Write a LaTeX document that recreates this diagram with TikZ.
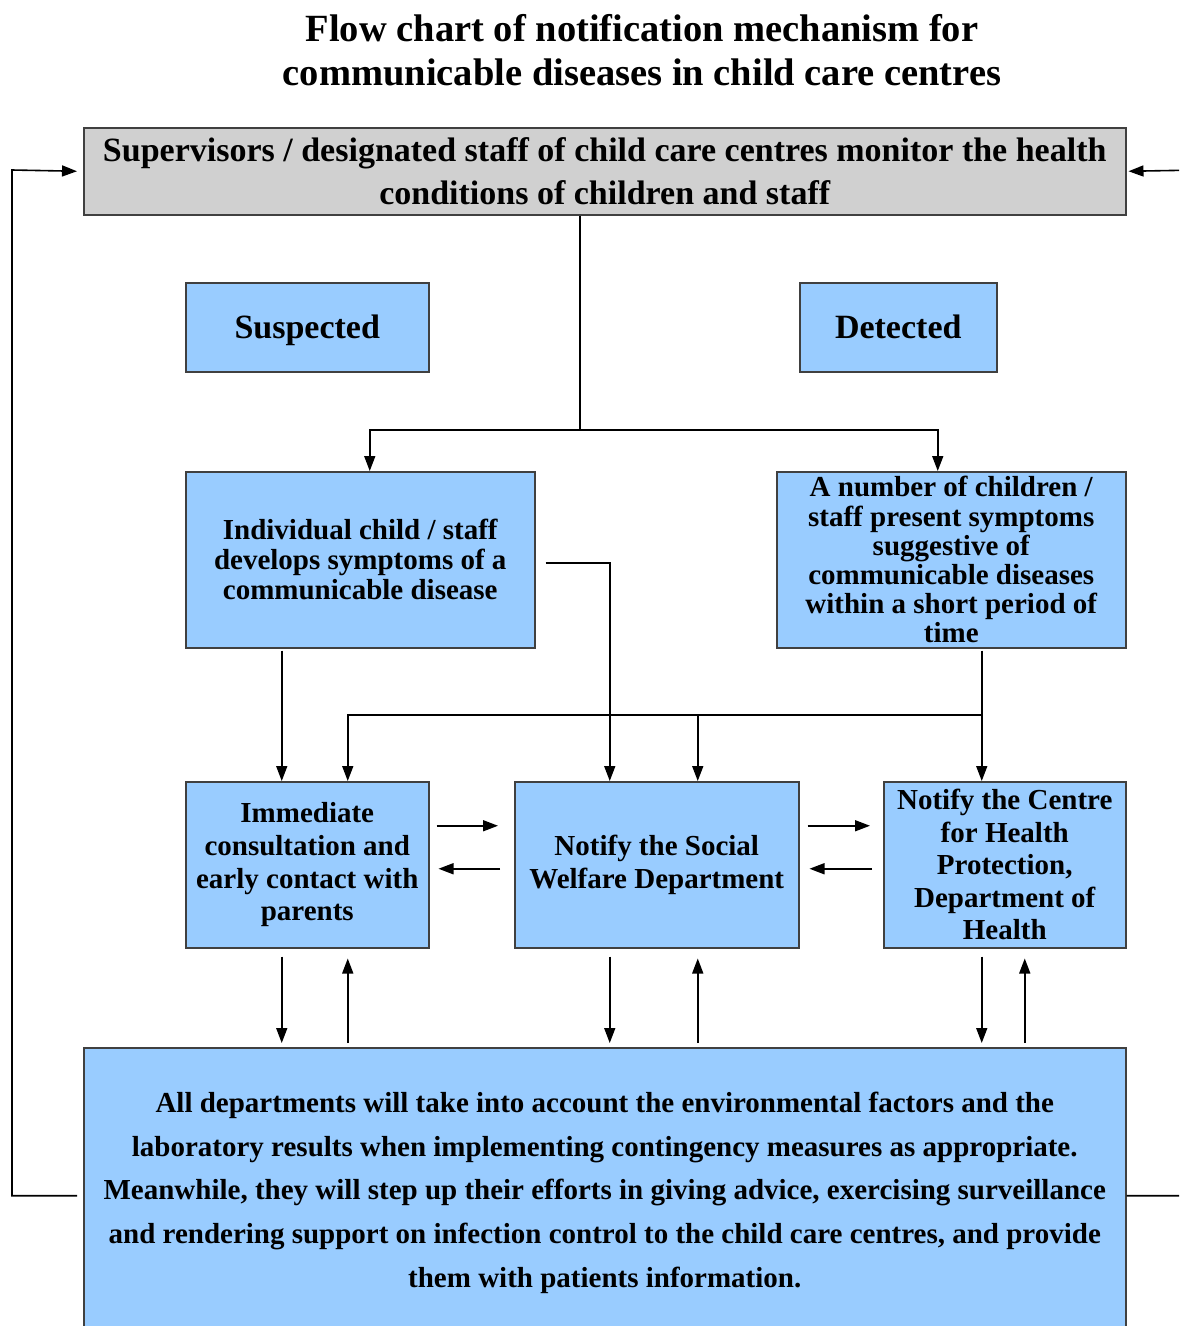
\documentclass[tikz,border=0pt]{standalone}
\usepackage{fontspec}
\setmainfont{Liberation Serif}
\usetikzlibrary{arrows.meta}
\definecolor{boxblue}{HTML}{99CCFF}
\definecolor{boxgray}{HTML}{D0D0D0}
\definecolor{edge}{HTML}{404040}
\begin{document}
\begin{tikzpicture}[x=1pt,y=-1pt,
  box/.style={draw=edge,line width=1.5pt,fill=boxblue,anchor=north west,inner sep=0pt,align=center,font=\bfseries\fontsize{29}{30}\selectfont},
  arr/.style={line width=1.6pt,-{Triangle[length=15pt,width=11pt]}},
  ln/.style={line width=1.6pt}]
\clip (0,0) rectangle (1179,1326);
\fill[white] (0,0) rectangle (1179,1326);
% title
\node[font=\bfseries\fontsize{38.5}{44}\selectfont,align=center] (title) at (642,50) {Flow chart of notification mechanism for\\communicable diseases in child care centres};
% boxes
\node[box,fill=boxgray,minimum width=1042pt,minimum height=87pt,font=\bfseries\fontsize{34}{43}\selectfont] (sup) at (83,127) {Supervisors / designated staff of child care centres monitor the health\\conditions of children and staff};
\node[box,minimum width=243pt,minimum height=89pt,font=\bfseries\fontsize{34}{38}\selectfont,text depth=2pt] (susp) at (185,282) {Suspected};
\node[box,minimum width=197pt,minimum height=89pt,font=\bfseries\fontsize{34}{38}\selectfont] (det) at (799,282) {Detected};
\node[box,minimum width=349pt,minimum height=176pt] (ind) at (185,471) {Individual child / staff\\develops symptoms of a\\communicable disease};
\node[box,minimum width=349pt,minimum height=176pt,font=\bfseries\fontsize{29}{29.2}\selectfont] (num) at (776,471) {A number of children /\\staff present symptoms\\suggestive of\\communicable diseases\\within a short period of\\time};
\node[box,minimum width=243pt,minimum height=166pt,font=\bfseries\fontsize{29}{32.7}\selectfont] (imm) at (185,781) {Immediate\\consultation and\\early contact with\\parents};
\node[box,minimum width=284pt,minimum height=166pt,font=\bfseries\fontsize{29}{33}\selectfont] (swd) at (514,781) {Notify the Social\\Welfare Department};
\node[box,minimum width=242pt,minimum height=166pt,font=\bfseries\fontsize{29}{32.5}\selectfont] (chp) at (883,781) {Notify the Centre\\for Health\\Protection,\\Department of\\Health};
\node[box,minimum width=1042pt,minimum height=290pt,font=\bfseries\fontsize{29}{43.8}\selectfont] (all) at (83,1047) {All departments will take into account the environmental factors and the\\laboratory results when implementing contingency measures as appropriate.\\Meanwhile, they will step up their efforts in giving advice, exercising surveillance\\and rendering support on infection control to the child care centres, and provide\\them with patients information.};
% connectors
\coordinate (j) at (580,430);
\draw[ln] (sup.south -| j) -- (j);
\draw[arr] (j) -| ([xshift=9.5pt]ind.north);
\draw[arr] (j) -| ([xshift=-13.5pt]num.north);
\draw[arr] ([xshift=10pt,yshift=-3pt]ind.east) -| ([xshift=-47pt]swd.north);
\draw[arr] ([xshift=-78.5pt,yshift=-2pt]ind.south) -- ([xshift=-25.5pt]imm.north);
\coordinate (h) at (981,715);
\draw[arr] ([xshift=30.5pt,yshift=-2pt]num.south) -- ([xshift=-23pt]chp.north);
\draw[arr] (h) -| ([xshift=40.5pt]imm.north);
\draw[arr] ([xshift=41pt]swd.north |- h) -- ([xshift=41pt]swd.north);
% horizontal pairs
\draw[arr] ([xshift=7pt,yshift=39pt]imm.east) -- ([xshift=-16pt,yshift=39pt]swd.west);
\draw[arr] ([xshift=-14pt,yshift=-4pt]swd.west) -- ([xshift=9pt,yshift=-4pt]imm.east);
\draw[arr] ([xshift=8pt,yshift=39pt]swd.east) -- ([xshift=-13pt,yshift=39pt]chp.west);
\draw[arr] ([xshift=-11pt,yshift=-4pt]chp.west) -- ([xshift=10pt,yshift=-4pt]swd.east);
% vertical pairs
\draw[arr,shorten >=4pt] ([xshift=-25.5pt,yshift=-8pt]imm.south) -- ([xshift=-25.5pt]imm.south |- all.north);
\draw[arr,shorten >=10pt] ([xshift=40.5pt,yshift=4pt]imm.south |- all.north) -- ([xshift=40.5pt]imm.south);
\draw[arr,shorten >=4pt] ([xshift=-47pt,yshift=-8pt]swd.south) -- ([xshift=-47pt]swd.south |- all.north);
\draw[arr,shorten >=10pt] ([xshift=41pt,yshift=4pt]swd.south |- all.north) -- ([xshift=41pt]swd.south);
\draw[arr,shorten >=4pt] ([xshift=-23pt,yshift=-8pt]chp.south) -- ([xshift=-23pt]chp.south |- all.north);
\draw[arr,shorten >=10pt] ([xshift=20pt,yshift=4pt]chp.south |- all.north) -- ([xshift=20pt]chp.south);
% feedback loops
\coordinate (lc) at (12,170);
\coordinate (rc) at (1200,170);
\draw[arr] ([xshift=-6pt,yshift=-3pt]all.west) -| (lc) -- ([xshift=-6pt]sup.west);
\draw[arr] ([yshift=-3pt]all.east) -| (rc) -- ([xshift=2pt]sup.east);
\end{tikzpicture}
\end{document}
